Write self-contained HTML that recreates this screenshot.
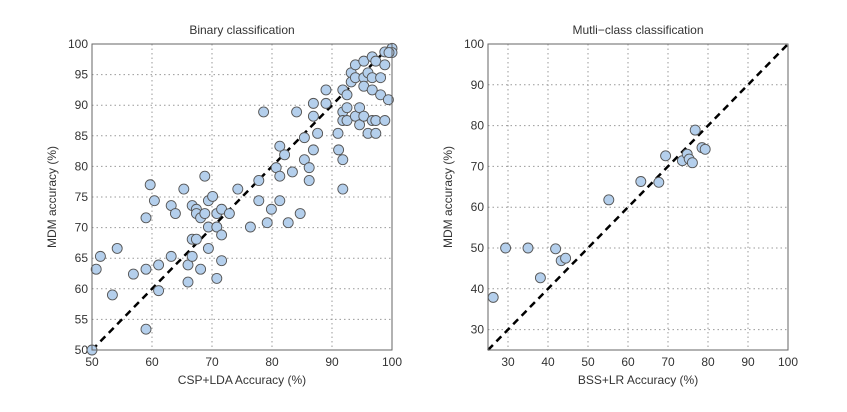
<!DOCTYPE html>
<html><head><meta charset="utf-8"><style>
body{margin:0;background:#fff}
svg text{font-family:"Liberation Sans",sans-serif;fill:#333}
</style></head><body>
<svg id="c" width="847" height="407"></svg>
<script>
const binX=[59.7,65.3,68.8,74.3,77.8,78.6,80.7,81.3,81.3,82.1,83.4,84.1,85.4,85.4,86.2,86.2,86.9,86.9,86.9,87.6,89.0,89.0,91.0,91.1,91.8,91.8,91.8,92.5,91.8,91.8,92.5,92.5,93.2,93.2,93.9,93.9,93.9,94.6,94.6,95.3,95.3,95.3,95.3,96.0,96.0,96.7,96.7,96.7,96.7,97.3,97.3,97.3,98.1,98.1,98.8,98.8,98.8,99.4,100,100,99.5,
50,50.7,51.4,54.2,53.4,56.9,59.0,59.0,59.0,60.4,61.1,61.1,63.2,63.2,63.9,66.0,66.0,66.7,66.7,66.7,67.4,67.4,67.4,68.1,68.1,68.8,69.4,69.4,69.4,70.1,70.8,70.8,70.8,71.6,71.6,71.6,72.9,76.4,77.8,79.9,79.2,81.3,82.7,84.7];
const binY=[77.0,76.3,78.4,76.3,77.7,88.9,79.8,83.3,78.4,81.9,79.1,88.9,84.7,81.1,79.8,77.7,88.2,90.3,82.7,85.4,92.5,90.3,85.4,82.7,81.1,76.3,92.5,91.7,88.9,87.5,89.6,87.5,95.3,93.8,96.6,94.5,88.2,89.6,86.8,97.2,94.5,93.1,88.2,95.3,85.4,97.9,94.5,92.5,87.5,97.2,87.5,85.4,94.5,91.7,96.6,87.5,98.7,90.9,99.3,98.6,98.6,
50,63.2,65.3,66.6,59.0,62.4,71.6,63.2,53.4,74.4,63.9,59.7,73.6,65.3,72.3,63.9,61.1,73.6,68.1,65.3,73.0,72.3,68.1,71.6,63.2,72.3,74.4,70.1,66.6,75.1,72.3,70.1,61.7,73.0,68.8,64.6,72.3,70.1,74.4,73.0,70.8,74.4,70.8,72.3];
const mcX=[26.3,29.4,35.0,38.1,41.9,43.3,44.4,55.2,63.2,67.7,69.4,73.6,74.8,75.3,76.1,76.8,78.5,79.3];
const mcY=[37.9,50.0,50.0,42.7,49.8,46.9,47.5,61.8,66.3,66.1,72.6,71.4,73.0,71.8,70.9,78.9,74.6,74.2];
const binTicks=[50,55,60,65,70,75,80,85,90,95,100];
const binXTicks=[50,60,70,80,90,100];
const mcTicks=[30,40,50,60,70,80,90,100];

const NS='http://www.w3.org/2000/svg';
const svg=document.getElementById('c');
function mk(t,a,p){const e=document.createElementNS(NS,t);for(const k in a)e.setAttribute(k,a[k]);(p||svg).appendChild(e);return e;}
function panel(o){
  const g=mk('g',{});
  
  
  const sx=v=>o.x0+(v-o.min)/(o.max-o.min)*(o.x1-o.x0);
  const sy=v=>o.y1-(v-o.min)/(o.max-o.min)*(o.y1-o.y0);
  o.xt.forEach(v=>{
    if(v>o.min&&v<o.max){const l=mk('line',{x1:sx(v),x2:sx(v),y1:o.y0,y2:o.y1,stroke:'#999','stroke-dasharray':'1.5,3','stroke-width':1},g);
    }
    const t=mk('text',{x:sx(v),y:o.y1+16,'text-anchor':'middle','font-size':12},g);t.textContent=v;
    
  });
  o.yt.forEach(v=>{
    if(v>o.min&&v<o.max){const l=mk('line',{x1:o.x0,x2:o.x1,y1:sy(v),y2:sy(v),stroke:'#999','stroke-dasharray':'1.5,3','stroke-width':1},g);
    }
    const t=mk('text',{x:o.x0-4,y:sy(v)+4,'text-anchor':'end','font-size':12},g);t.textContent=v;
    
  });
  const d=mk('line',{x1:o.x0,y1:o.y1,x2:o.x1,y2:o.y0,stroke:'#000','stroke-width':2.5,'stroke-dasharray':'7,5'},g);
  
  o.px.forEach((v,i)=>{
    const c=mk('circle',{cx:sx(v),cy:sy(o.py[i]),r:5,fill:'#b4cfec',stroke:'#555','stroke-width':0.9},g);
    
  });
  const f=mk('rect',{x:o.x0,y:o.y0,width:o.x1-o.x0,height:o.y1-o.y0,fill:'none',stroke:'#666','stroke-width':1},g);
  
  const ti=mk('text',{x:(o.x0+o.x1)/2,y:o.y0-10,'text-anchor':'middle','font-size':12},g);ti.textContent=o.title;
  
  const xl=mk('text',{x:(o.x0+o.x1)/2,y:o.y1+34,'text-anchor':'middle','font-size':12},g);xl.textContent=o.xlab;
  
  const yx=o.x0-36,yy=(o.y0+o.y1)/2;
  const yl=mk('text',{x:yx,y:yy,'text-anchor':'middle','font-size':12,transform:`rotate(-90 ${yx} ${yy})`},g);yl.textContent='MDM accuracy (%)';
  
}
panel({name:'binary-panel',x0:92,x1:392,y0:44,y1:350,min:50,max:100,xt:binXTicks,yt:binTicks,px:binX,py:binY,title:'Binary classification',xlab:'CSP+LDA Accuracy (%)'});
panel({name:'multiclass-panel',x0:488,x1:788,y0:44,y1:350,min:25,max:100,xt:mcTicks,yt:mcTicks,px:mcX,py:mcY,title:'Mutli\u2212class classification',xlab:'BSS+LR Accuracy (%)'});
</script>
</body></html>
